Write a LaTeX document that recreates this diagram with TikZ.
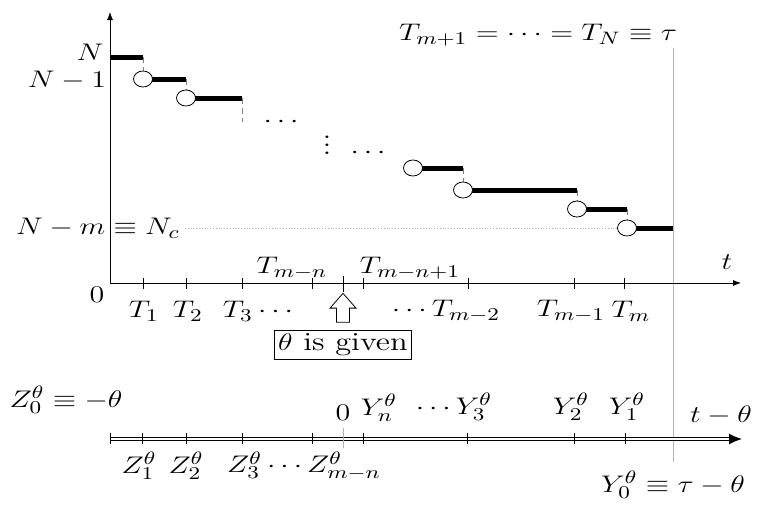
\documentclass[tikz,border=0pt]{standalone}
\usepackage{tikz}
\usetikzlibrary{arrows.meta, shapes.arrows, shapes.geometric}

\begin{document}
\begin{tikzpicture}[x=0.5pt, y=-0.5pt, >={Latex[length=4pt,width=3pt]}, semithick,
    font=\fontsize{13}{15}\selectfont, inner sep=0.5pt,
    every node/.style={xscale=1.25}]

  \tikzstyle{level}=[line width=2.5pt]
  \tikzstyle{jump}=[gray, densely dashed, thin]
  \tikzstyle{hole}=[draw, thin, ellipse, fill=white, minimum width=7.6pt,
    minimum height=8pt, inner sep=0pt]
  \tikzstyle{tick}=[thin]
  \tikzstyle{guide}=[gray!60, thin]

  \useasboundingbox (0,0) rectangle (761,509);

  % axes
  \coordinate (O) at (110,283);
  \coordinate (YTOP) at (110,12);
  \coordinate (XEND) at (741,283);
  \coordinate (ZO) at (110,439);
  \coordinate (ZEND) at (742,439);
  \coordinate (TAUTOP) at (673,48);
  \coordinate (TAUBOT) at (673,462);

  \draw[guide] (TAUTOP) -- (TAUBOT);
  \draw[thin, ->] (O) -- (YTOP);
  \draw[thin, ->] (O) -- (XEND);
  \draw[line width=0.6pt, double, double distance=0.6pt,
    -{Latex[length=6.5pt,width=5.5pt]}] (ZO) -- (ZEND);

  % jumps of the counting process
  \coordinate (J1) at (143,79);
  \coordinate (J2) at (186,98);
  \coordinate (J3) at (413,168);
  \coordinate (J4) at (463,190);
  \coordinate (J5) at (577,209);
  \coordinate (J6) at (627,228);

  \draw[guide, densely dotted] (185,228) -- (J6);

  \draw[level] (110,57) -- (143,57);
  \draw[level] (J1) -- (J1 -| J2);
  \draw[level] (J2) -- (242,98);
  \draw[level] (J3) -- (J3 -| J4);
  \draw[level] (J4) -- (J4 -| J5);
  \draw[level] (J5) -- (J5 -| J6);
  \draw[level] (J6) -- (J6 -| TAUTOP);

  \draw[jump] (143,57) -- (J1);
  \draw[jump] (J1 -| J2) -- (J2);
  \draw[jump] (242,98) -- (242,122);
  \draw[jump] (J3 -| J4) -- (J4);
  \draw[jump] (J4 -| J5) -- (J5);
  \draw[jump] (J5 -| J6) -- (J6);

  \foreach \j in {1,...,6}
    \node[hole] (H\j) at (J\j) {};

  % ticks
  \foreach \x in {143,186,242,312,363,468,574,624}
    \draw[tick] (\x,278) -- (\x,289);
  \draw[tick] (343,276) -- (343,292);
  \foreach \x in {110,142,186,242,312,363,467,574,625}
    \draw[tick] (\x,433) -- (\x,444);
  \draw[guide] (343,428) -- (343,448);

  % labels of the upper axis
  \node (N)    at (90,52)  {$N$};
  \node (NM1)  at (67,80)  {$N-1$};
  \node[anchor=east] (NC) at (182,228) {$N-m\equiv N_c$};
  \node (ZERO) at (97,295) {$0$};
  \node (T)    at (727,262) {$t$};
  \node (DOTSA) at (281,122) {$\cdots$};
  \node (DOTSB) at (327,139) {$\vdots$};
  \node (DOTSC) at (368,153) {$\cdots$};
  \node (TAU)  at (538,35) {$T_{m+1}=\cdots=T_N\equiv\tau$};

  \node (TMN)  at (292,268) {$T_{m-n}$};
  \node (TMN1) at (410,268) {$T_{m-n+1}$};
  \node (T1)   at (144,311) {$T_1$};
  \node (T2)   at (188,311) {$T_2$};
  \node (T3)   at (258,311) {$T_3\cdots$};
  \node (TM2)  at (446,311) {$\cdots T_{m-2}$};
  \node (TM1)  at (571,311) {$T_{m-1}$};
  \node (TM)   at (631,311) {$T_m$};

  \node[draw, thin, inner sep=1.5pt] (GIVEN) at (343,345) {$\theta$ is given};
  \node[single arrow, draw, thin, shape border rotate=90, minimum height=14.5pt,
    minimum width=10pt, single arrow head extend=2.6pt,
    single arrow tip angle=70, inner sep=2.4pt] (UP) at (343,311.5) {};

  % labels of the shifted axis
  \node (Z0)   at (66,400)  {$Z_0^\theta\equiv-\theta$};
  \node (Z1)   at (139,466) {$Z_1^\theta$};
  \node (Z2)   at (186,466) {$Z_2^\theta$};
  \node (Z3)   at (304,466) {$Z_3^\theta\cdots Z_{m-n}^\theta$};
  \node (ZERO2) at (343,413) {$0$};
  \node (YN)   at (379,408) {$Y_n^\theta$};
  \node (Y3)   at (454,407) {$\cdots Y_3^\theta$};
  \node (Y2)   at (571,407) {$Y_2^\theta$};
  \node (Y1)   at (627,407) {$Y_1^\theta$};
  \node (TTH)  at (721,415) {$t-\theta$};
  \node (Y0)   at (673,485) {$Y_0^\theta\equiv\tau-\theta$};
\end{tikzpicture}
\end{document}
